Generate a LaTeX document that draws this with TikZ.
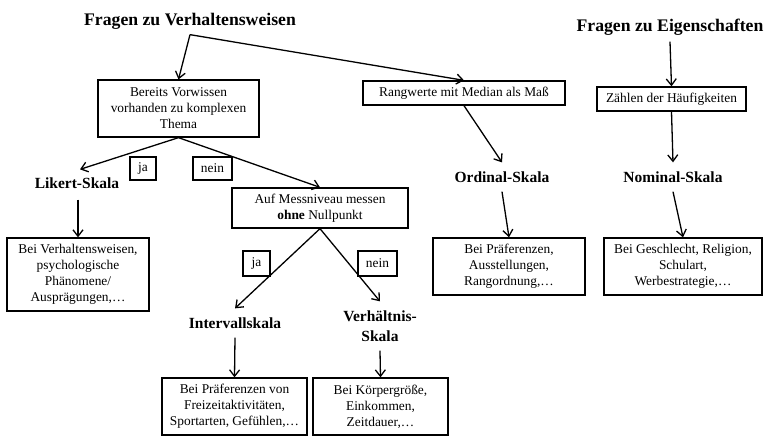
\documentclass[tikz,border=0pt]{standalone}
\usepackage{fontspec}
\setmainfont{Liberation Serif}
\usetikzlibrary{arrows.meta}
\begin{document}
\begin{tikzpicture}[x=1pt,y=-1pt,line width=1.3pt,
  arr/.style={-{Straight Barb[length=6.5pt,width=10pt]}},
  kasten/.style={draw,rectangle,inner sep=0pt,align=center,font=\fontsize{13.4}{16}\selectfont},
  titel/.style={font=\fontsize{17.7}{20}\selectfont\bfseries,inner sep=0pt,minimum height=26pt},
  skala/.style={font=\fontsize{15.5}{20}\selectfont\bfseries,inner sep=0pt,minimum height=28pt,align=center}]
\useasboundingbox (0,0) rectangle (780,440);
\fill[white] (0,0) rectangle (780,440);

% titles
\node[titel] (tv) at (190,21) {Fragen zu Verhaltensweisen};
\node[titel,minimum height=28pt] (te) at (670,27) {Fragen zu Eigenschaften};

% boxes
\node[kasten,minimum width=161pt,minimum height=57pt] (bereits) at (178.5,108.5) {Bereits Vorwissen\\vorhanden zu komplexen\\Thema};
\node[kasten,minimum width=176pt,minimum height=40pt] (auf) at (320,208) {Auf Messniveau messen\\\textbf{ohne} Nullpunkt};
\node[kasten,minimum width=142pt,minimum height=73pt] (verh) at (78,274.5) {Bei Verhaltensweisen,\\psychologische\\Phänomene/\\Ausprägungen,\dots};
\node[kasten,minimum width=145pt,minimum height=57pt] (praef) at (234.5,406.5) {Bei Präferenzen von\\Freizeitaktivitäten,\\Sportarten, Gefühlen,\dots};
\node[kasten,minimum width=135pt,minimum height=57pt] (koerper) at (380.5,406.5) {Bei Körpergröße,\\Einkommen,\\Zeitdauer,\dots};
\node[kasten,minimum width=202pt,minimum height=24pt] (rang) at (464,93) {Rangwerte mit Median als Maß};
\node[kasten,minimum width=152pt,minimum height=57pt] (ordbox) at (509,266.5) {Bei Präferenzen,\\Ausstellungen,\\Rangordnung,\dots};
\node[kasten,minimum width=149pt,minimum height=24pt] (zaehlen) at (671.5,99) {Zählen der Häufigkeiten};
\node[kasten,minimum width=158pt,minimum height=57pt] (nombox) at (683,266.5) {Bei Geschlecht, Religion,\\Schulart,\\Werbestrategie,\dots};

% ja / nein
\node[kasten,minimum width=26pt,minimum height=23pt] (ja1) at (143,168.5) {ja};
\node[kasten,minimum width=39pt,minimum height=23pt] (nein1) at (212.5,168.5) {nein};
\node[kasten,minimum width=27pt,minimum height=25pt] (ja2) at (256.5,263.5) {ja};
\node[kasten,minimum width=39pt,minimum height=25pt] (nein2) at (377.5,263.5) {nein};

% scale labels
\node[skala,minimum height=30pt] (likert) at (77,183) {Likert-Skala};
\node[skala] (ordinal) at (502,177) {Ordinal-Skala};
\node[skala] (nominal) at (673,177) {Nominal-Skala};
\node[skala] (intervall) at (235,323) {Intervallskala};
\node[skala,minimum height=48pt] (verhskala) at (380,326) {Verhältnis-\\Skala};

% connectors
\draw[arr] (tv.south) -- (bereits.north);
\draw[arr] (tv.south) -- (rang.north);
\draw[arr] (bereits.south) -- ([xshift=3pt,yshift=-2pt]likert.north);
\draw[arr] (bereits.south) -- (auf.north);
\draw[arr] ([xshift=1pt,yshift=-1pt]likert.south) -- (verh.north);
\draw[arr] (auf.south) -- (intervall.north);
\draw[arr] (auf.south) -- (verhskala.north);
\draw[arr] (intervall.south) -- (praef.north);
\draw[arr] (verhskala.south) -- (koerper.north);
\draw[arr] (rang.south) -- (ordinal.north);
\draw[arr] (ordinal.south) -- (ordbox.north);
\draw[arr] (te.south) -- (zaehlen.north);
\draw[arr] (zaehlen.south) -- (nominal.north);
\draw[arr] (nominal.south) -- (nombox.north);
\end{tikzpicture}
\end{document}
